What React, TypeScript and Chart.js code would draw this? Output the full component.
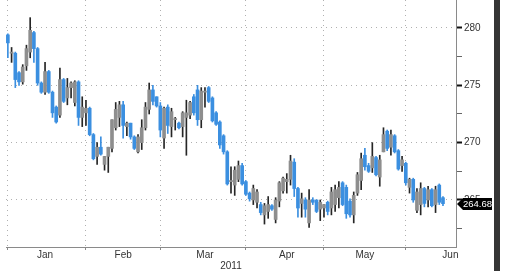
import { useEffect, useRef } from 'react';
import { Chart, registerables } from 'chart.js';

Chart.register(...registerables);

// ---- data ----
const opens = [
  279.4, 277.8, 277.8, 276.1, 275.3, 276.7, 277.9, 279.6, 278.2, 275.2,
  274.4, 276.2, 274.4, 273.1, 272.4, 275.5, 273.9, 274.8, 273.5, 275.3,
  272.2, 272.6, 273.0, 270.7, 268.8, 269.6, 268.1, 268.8, 269.5, 271.3,
  272.2, 273.3, 271.4, 271.7, 270.5, 269.2, 270.0, 271.3, 272.9, 274.6,
  274.0, 273.2, 270.4, 273.1, 271.4, 272.0, 271.7, 271.4, 272.2, 272.4,
  274.0, 274.6, 272.0, 274.4, 274.8, 273.9, 272.6, 271.8, 270.6, 269.2,
  266.6, 266.3, 266.8, 268.0, 266.6, 265.6, 265.0, 264.8, 264.6, 263.7,
  264.0, 264.5, 263.3, 264.9, 265.8, 266.6, 266.8, 268.3, 266.0, 264.7,
  265.0, 263.0, 265.0, 265.0, 264.2, 264.3, 264.8, 264.3, 264.6, 265.2,
  266.5, 266.1, 264.9, 263.7, 265.6, 266.7, 268.9, 268.0, 267.8, 268.7,
  267.0, 269.2, 271.0, 269.6, 270.6, 269.3, 268.0, 268.2, 266.1, 266.8,
  264.1, 264.6, 266.0, 265.0, 265.9, 264.6, 266.3, 265.2,
];
const highs = [
  279.5, 278.3, 277.9, 276.2, 276.8, 278.5, 280.9, 279.7, 278.3, 275.3,
  277.0, 276.3, 274.5, 273.2, 276.5, 275.6, 275.6, 275.3, 275.4, 275.4,
  274.0, 273.7, 273.1, 270.8, 270.0, 270.5, 268.8, 269.6, 272.0, 273.5,
  273.6, 273.6, 271.8, 271.7, 270.6, 270.7, 272.0, 273.5, 275.2, 275.0,
  274.0, 273.5, 273.1, 273.3, 273.0, 272.2, 271.8, 272.7, 273.7, 273.6,
  274.2, 275.0, 274.8, 274.8, 274.9, 274.0, 272.7, 271.9, 270.7, 269.3,
  267.9, 267.9, 268.4, 268.2, 266.7, 265.7, 266.3, 265.9, 264.8, 264.7,
  265.3, 264.6, 265.2, 266.6, 267.0, 267.3, 268.9, 268.6, 266.1, 265.6,
  265.2, 265.9, 265.2, 265.0, 265.0, 264.6, 264.9, 266.1, 266.3, 266.6,
  266.6, 266.3, 265.1, 265.7, 267.4, 269.1, 269.5, 268.2, 270.0, 268.8,
  268.9, 271.3, 271.1, 271.1, 270.7, 269.4, 268.8, 268.3, 266.9, 266.9,
  266.0, 266.5, 266.1, 266.2, 266.0, 266.2, 266.4, 265.3,
];
const lows = [
  277.4, 277.0, 274.8, 275.0, 275.1, 276.3, 277.4, 277.0, 275.0, 274.3,
  274.2, 274.3, 272.2, 271.7, 272.2, 273.5, 273.3, 273.9, 273.2, 271.5,
  271.4, 271.5, 270.6, 268.5, 268.1, 268.9, 267.6, 267.4, 269.2, 271.1,
  271.4, 270.4, 270.6, 270.3, 269.4, 269.1, 269.4, 271.1, 272.5, 273.3,
  273.1, 270.5, 269.5, 270.8, 270.5, 271.1, 271.2, 270.5, 268.9, 272.1,
  272.4, 271.5, 271.3, 273.1, 273.5, 271.8, 271.5, 269.5, 269.0, 266.3,
  265.6, 265.4, 266.6, 266.3, 265.4, 264.9, 264.6, 264.3, 263.7, 262.9,
  263.4, 264.1, 263.0, 264.4, 265.6, 265.6, 266.3, 265.3, 263.5, 263.5,
  263.5, 262.6, 264.6, 263.9, 263.2, 263.5, 263.7, 263.7, 264.0, 264.3,
  264.5, 263.4, 263.5, 263.0, 265.4, 265.9, 267.6, 267.4, 267.4, 267.1,
  266.2, 269.2, 269.3, 268.9, 269.1, 267.6, 267.5, 266.3, 265.6, 264.8,
  263.9, 263.7, 264.4, 264.4, 264.4, 263.9, 264.6, 264.5,
];
const closes = [
  278.7, 277.9, 275.5, 275.3, 276.6, 278.2, 279.8, 278.2, 275.2, 274.4,
  276.2, 274.4, 272.6, 271.8, 275.5, 273.6, 274.8, 275.2, 275.3, 272.2,
  273.1, 273.0, 270.7, 268.6, 269.6, 269.0, 268.8, 269.6, 272.0, 272.9,
  273.3, 271.5, 271.7, 270.5, 269.5, 270.5, 271.3, 273.1, 274.6, 273.6,
  273.2, 271.1, 273.0, 271.5, 272.7, 272.1, 271.3, 272.6, 272.6, 273.5,
  272.6, 272.0, 274.5, 274.5, 273.6, 271.9, 271.6, 269.8, 269.2, 266.4,
  266.7, 267.6, 268.0, 266.4, 265.5, 265.1, 266.0, 265.7, 263.9, 264.5,
  264.6, 264.2, 265.0, 266.5, 266.9, 266.8, 268.4, 266.0, 264.3, 265.1,
  264.2, 265.0, 264.8, 264.0, 264.8, 264.6, 264.0, 265.7, 265.9, 266.1,
  264.6, 263.8, 263.7, 265.4, 267.2, 268.6, 267.9, 267.5, 268.8, 267.2,
  268.5, 270.7, 269.5, 270.7, 269.2, 267.7, 268.5, 266.5, 266.8, 265.0,
  265.7, 266.0, 264.7, 265.9, 264.5, 265.9, 264.8, 264.68,
];
const lastValue = 264.68;

const monthNames = ['Jan', 'Feb', 'Mar', 'Apr', 'May', 'Jun'];
const monthLabelDates = ['2011-01-17', '2011-02-15', '2011-03-17', '2011-04-18', '2011-05-17', '2011-06-17'];
const yearLabel = '2011';
const yTickValues = [262.5, 265, 267.5, 270, 272.5, 275, 277.5, 280];
const yMajorValues = [265, 270, 275, 280];
const slotCount = 121;

function tradingDays(n: number): string[] {
  const out: string[] = [];
  let t = Date.UTC(2011, 0, 3);
  while (out.length < n) {
    const d = new Date(t);
    const wd = d.getUTCDay();
    if (wd !== 0 && wd !== 6) out.push(d.toISOString().slice(0, 10));
    t += 86400000;
  }
  return out;
}

const BLUE = '#3b8fe0';
const GRAY = '#8e8e8e';
const WICK_UP = '#262626';
const FONT = 'Arial, "Liberation Sans", sans-serif';

export default function App() {
  const ref = useRef<HTMLCanvasElement | null>(null);

  useEffect(() => {
    if (!ref.current) return;
    const dates = tradingDays(slotCount);
    const monthStart = new Set<number>();
    dates.forEach((d, i) => {
      if (i === 0 || d.slice(5, 7) !== dates[i - 1].slice(5, 7)) monthStart.add(i);
    });
    const labelAt = new Map<number, string>();
    monthLabelDates.forEach((d, k) => labelAt.set(dates.indexOf(d), monthNames[k]));
    const up = closes.map((c, i) => c >= opens[i]);

    const lastLabelPlugin = {
      id: 'lastLabel',
      afterDraw(chart: any) {
        const { ctx } = chart;
        const y = Math.round(chart.scales.y.getPixelForValue(lastValue));
        const x0 = chart.chartArea.right;
        ctx.save();
        ctx.fillStyle = '#000';
        ctx.beginPath();
        ctx.moveTo(x0 + 1, y);
        ctx.lineTo(x0 + 7, y - 6);
        ctx.lineTo(x0 + 36, y - 6);
        ctx.lineTo(x0 + 36, y + 6);
        ctx.lineTo(x0 + 7, y + 6);
        ctx.closePath();
        ctx.fill();
        ctx.fillStyle = '#fff';
        ctx.font = '9.5px ' + FONT;
        ctx.textBaseline = 'middle';
        ctx.textAlign = 'left';
        ctx.fillText(lastValue.toFixed(2), x0 + 7, y + 0.5);
        ctx.restore();
      },
    };

    const chart = new Chart(ref.current, {
      type: 'bar',
      data: {
        labels: dates,
        datasets: [
          {
            label: 'body',
            data: opens.map((o, i) => [o, closes[i]]) as any,
            backgroundColor: up.map((u) => (u ? GRAY : BLUE)),
            barThickness: 3,
            minBarLength: 1,
            grouped: false,
            order: 0,
          },
          {
            label: 'wick',
            data: lows.map((l, i) => [l, highs[i]]) as any,
            backgroundColor: up.map((u) => (u ? WICK_UP : BLUE)),
            barThickness: 1,
            grouped: false,
            order: 1,
          },
        ],
      },
      options: {
        animation: false,
        responsive: false,
        events: [],
        layout: { padding: { left: 6, top: 0, right: 0, bottom: 0 } },
        plugins: {
          legend: { display: false },
          tooltip: { enabled: false },
        },
        scales: {
          x: {
            type: 'category',
            offset: true,
            grid: {
              offset: false,
              color: (c: any) => (monthStart.has(c.index) ? '#b0b0b0' : 'rgba(0,0,0,0)'),
              tickColor: (c: any) => (monthStart.has(c.index) ? '#8a8a8a' : 'rgba(0,0,0,0)'),
              tickLength: 3,
              lineWidth: 1,
            },
            border: { display: true, color: '#8a8a8a', width: 1, dash: [1, 4] },
            ticks: {
              autoSkip: false,
              maxRotation: 0,
              minRotation: 0,
              padding: -1,
              color: '#333',
              font: { family: FONT, size: 10 },
              callback: (_v: any, i: number) => labelAt.get(i) ?? '',
            },
            title: {
              display: true,
              text: yearLabel,
              color: '#333',
              font: { family: FONT, size: 10, lineHeight: 1 },
              padding: { top: 0, bottom: 0 },
            },
            afterFit: (s: any) => {
              s.height = 24;
              s.paddingLeft = 0;
              s.paddingRight = 0;
            },
          },
          y: {
            type: 'linear',
            position: 'right',
            min: 260.9,
            max: 282.44,
            bounds: 'data',
            afterBuildTicks: (s: any) => {
              s.ticks = yTickValues.map((v) => ({ value: v }));
            },
            grid: {
              color: (c: any) => (c.tick && yMajorValues.includes(c.tick.value) ? '#b0b0b0' : 'rgba(0,0,0,0)'),
              tickColor: (c: any) => (c.tick && yMajorValues.includes(c.tick.value) ? '#111' : '#666'),
              tickWidth: (c: any) => (c.tick && yMajorValues.includes(c.tick.value) ? 2 : 1),
              tickLength: 6,
            },
            border: { display: true, color: '#8a8a8a', width: 1, dash: [1, 4] },
            ticks: {
              padding: 2,
              color: '#333',
              font: { family: FONT, size: 10 },
              callback: (v: any) => (yMajorValues.includes(v) ? String(v) : ''),
            },
            afterFit: (s: any) => {
              s.width = 49;
              s.paddingTop = 0;
              s.paddingBottom = 0;
            },
          },
        },
      } as any,
      plugins: [lastLabelPlugin],
    });
    return () => chart.destroy();
  }, []);

  return (
    <div style={{ position: 'absolute', left: 0, top: 0, width: 505, height: 271, background: '#fff' }}>
      <canvas ref={ref} width={505} height={271} style={{ display: 'block', width: 505, height: 271 }} />
      <div style={{ position: 'absolute', left: 494, top: 0, width: 6, height: 271, background: '#353535' }} />
    </div>
  );
}
